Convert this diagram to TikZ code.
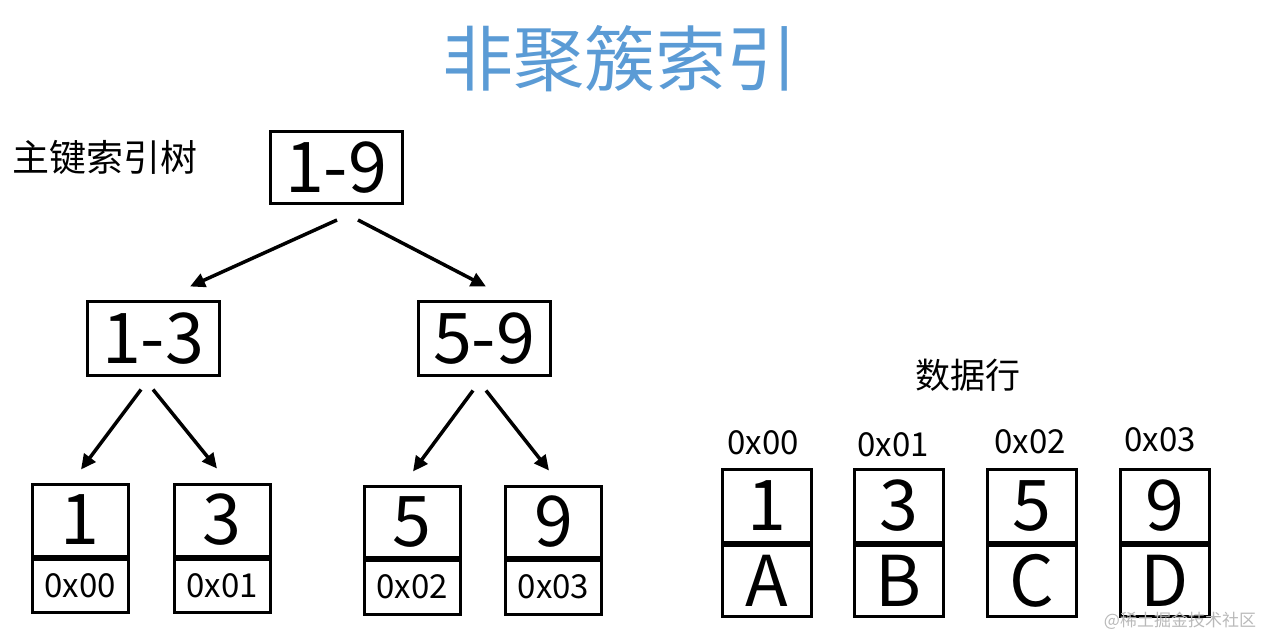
\documentclass[tikz,border=0pt]{standalone}
\usepackage{fontspec}
\setmainfont{Noto Sans CJK SC}
\usetikzlibrary{calc,arrows.meta}
\definecolor{titleblue}{RGB}{91,155,213}
\definecolor{wmgray}{RGB}{185,185,185}
\newcommand\fBig{\fontsize{70}{70}\selectfont}
\newcommand\fHex{\fontsize{33}{33}\selectfont}
\newcommand\fLab{\fontsize{35}{35}\selectfont}
\newcommand\fTitle{\fontsize{71}{71}\selectfont}
\tikzset{
  box/.style={draw, line width=3pt, inner sep=0pt, font=\fBig},
  hexcell/.style={draw, line width=3pt, inner sep=0pt, font=\fHex},
  arr/.style={line width=3.5pt, -{Triangle[length=15pt,width=14pt]}},
  lab/.style={inner sep=0pt, font=\fLab},
  hexlab/.style={inner sep=0pt, font=\fHex},
}
\begin{document}
\begin{tikzpicture}[x=1pt,y=-1pt]
\useasboundingbox (0,0) rectangle (1266,636);
% title
\node[inner sep=0pt, font=\fTitle, text=titleblue] (title) at (620,59) {非聚簇索引};
\node[lab, anchor=west, font=\fontsize{37}{37}\selectfont] (treelab) at (12,157) {主键索引树};
% tree
\node[box, minimum width=132pt, minimum height=72pt] (root) at (336,167.5) {1-9};
\node[box, minimum width=132pt, minimum height=73pt] (n13) at (153,338.5) {1-3};
\node[box, minimum width=132pt, minimum height=73pt] (n59) at (484,338.5) {5-9};
% leaves
\node[box, minimum width=96pt, minimum height=72pt] (l1) at (80,520) {1};
\node[hexcell, minimum width=96pt, minimum height=53pt, anchor=north] (l1h) at (l1.south) {0x00};
\node[box, minimum width=96pt, minimum height=72pt] (l3) at (222,520) {3};
\node[hexcell, minimum width=96pt, minimum height=53pt, anchor=north] (l3h) at (l3.south) {0x01};
\node[box, minimum width=96pt, minimum height=71pt] (l5) at (412,521.5) {5};
\node[hexcell, minimum width=96pt, minimum height=54pt, anchor=north] (l5h) at (l5.south) {0x02};
\node[box, minimum width=96pt, minimum height=71pt] (l9) at (553.5,521.5) {9};
\node[hexcell, minimum width=96pt, minimum height=54pt, anchor=north] (l9h) at (l9.south) {0x03};
% arrows
\draw[arr] ($(root.south)+(1,15)$) -- ($(n13.north)+(37,-14)$);
\draw[arr] ($(root.south)+(22,15)$) -- ($(n59.north)+(2,-14)$);
\draw[arr] ($(n13.south)+(-12,13)$) -- ($(l1.north)+(1,-13)$);
\draw[arr] ($(n13.south)+(0,13)$) -- ($(l3.north)+(-5,-14)$);
\draw[arr] ($(n59.south)+(-11,14)$) -- ($(l5.north)+(1,-13)$);
\draw[arr] ($(n59.south)+(2,14)$) -- ($(l9.north)+(-4.5,-14)$);
% data rows
\node[lab] (rowlab) at (967.5,375) {数据行};
\node[box, minimum width=89pt, minimum height=73pt] (dA) at (766.5,505.5) {1};
\node[box, minimum width=89pt, minimum height=71pt, anchor=north] (dAl) at (dA.south) {A};
\node[box, minimum width=89pt, minimum height=73pt] (dB) at (898.5,505.5) {3};
\node[box, minimum width=89pt, minimum height=71pt, anchor=north] (dBl) at (dB.south) {B};
\node[box, minimum width=89pt, minimum height=73pt] (dC) at (1031.5,505.5) {5};
\node[box, minimum width=89pt, minimum height=71pt, anchor=north] (dCl) at (dC.south) {C};
\node[box, minimum width=89pt, minimum height=73pt] (dD) at (1165,505.5) {9};
\node[box, minimum width=89pt, minimum height=71pt, anchor=north] (dDl) at (dD.south) {D};
\node[hexlab] (hA) at (763,443) {0x00};
\node[hexlab] (hB) at (893,445) {0x01};
\node[hexlab] (hC) at (1030,442) {0x02};
\node[hexlab] (hD) at (1160,440) {0x03};
% watermark
\node[inner sep=0pt, font=\fontsize{17}{17}\selectfont, text=wmgray] (wm) at (1180,621) {@稀土掘金技术社区};
\end{tikzpicture}
\end{document}
